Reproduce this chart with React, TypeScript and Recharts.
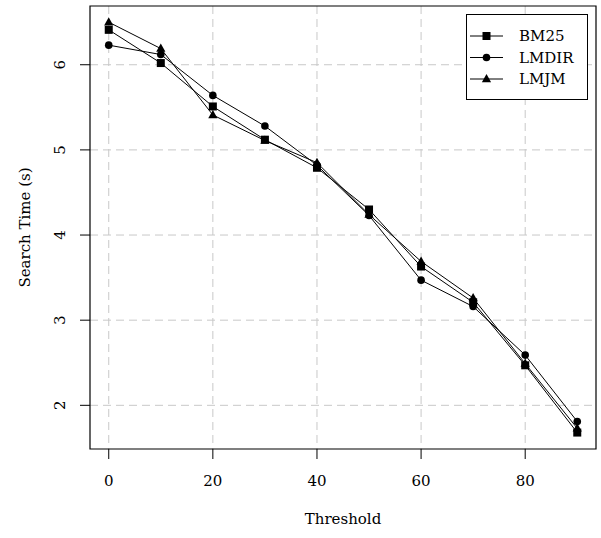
import { CartesianGrid, Legend, Line, LineChart, ReferenceArea, XAxis, YAxis } from "recharts"

const thresholds = [0, 10, 20, 30, 40, 50, 60, 70, 80, 90]
const bm25 = [6.41, 6.02, 5.51, 5.12, 4.79, 4.3, 3.63, 3.21, 2.47, 1.68]
const lmdir = [6.23, 6.12, 5.64, 5.28, 4.82, 4.23, 3.47, 3.16, 2.59, 1.81]
const lmjm = [6.5, 6.19, 5.41, 5.11, 4.85, 4.24, 3.69, 3.26, 2.49, 1.73]

const xTicks = [0, 20, 40, 60, 80]
const yTicks = [2, 3, 4, 5, 6]
const xDomain: [number, number] = [-3.6, 93.6]
const yDomain: [number, number] = [1.487, 6.69]

const textStyle = {
  fontFamily: '"DejaVu Serif", serif',
  fontSize: 15,
}

const data = thresholds.map((t, i) => ({
  t,
  bm25: bm25[i],
  lmdir: lmdir[i],
  lmjm: lmjm[i],
}))

type Shape = "square" | "circle" | "triangle"

function Marker({ shape, cx, cy }: { shape: Shape; cx: number; cy: number }) {
  if (shape === "square") {
    return <rect x={cx - 4} y={cy - 4} width={8} height={8} fill="#000" />
  }
  if (shape === "circle") {
    return <circle cx={cx} cy={cy} r={3.8} fill="#000" />
  }
  return (
    <polygon
      points={`${cx},${cy - 5} ${cx - 4.6},${cy + 3.2} ${cx + 4.6},${cy + 3.2}`}
      fill="#000"
    />
  )
}

const dotFor = (shape: Shape) => (p: any) => (
  <Marker key={`${shape}-${p.index}`} shape={shape} cx={p.cx} cy={p.cy} />
)

const series: { key: string; name: string; shape: Shape }[] = [
  { key: "bm25", name: "BM25", shape: "square" },
  { key: "lmdir", name: "LMDIR", shape: "circle" },
  { key: "lmjm", name: "LMJM", shape: "triangle" },
]

function LegendBox() {
  return (
    <svg width={122} height={86} style={{ display: "block" }}>
      <rect x={0.5} y={0.5} width={121} height={85} fill="#fff" stroke="#000" />
      {series.map((s, i) => {
        const y = 22 + i * 21.5
        return (
          <g key={s.key}>
            <line x1={4} x2={37} y1={y} y2={y} stroke="#000" />
            <Marker shape={s.shape} cx={20.5} cy={y} />
            <text x={53} y={y} dominantBaseline="central" style={textStyle} fill="#000">
              {s.name}
            </text>
          </g>
        )
      })}
    </svg>
  )
}

const YTick = ({ x, y, payload }: any) => (
  <text
    x={x - 18}
    y={y}
    transform={`rotate(-90 ${x - 18} ${y})`}
    textAnchor="middle"
    dominantBaseline="central"
    style={textStyle}
    fill="#000"
  >
    {payload.value}
  </text>
)

const XTick = ({ x, y, payload }: any) => (
  <text
    x={x}
    y={y + 20}
    textAnchor="middle"
    dominantBaseline="central"
    style={textStyle}
    fill="#000"
  >
    {payload.value}
  </text>
)

export default function App() {
  return (
    <div style={{ position: "absolute", left: 0, top: 0, background: "#fff" }}>
      <LineChart
        width={601}
        height={538}
        data={data}
        margin={{ top: 6, right: 5, bottom: 0, left: 0 }}
      >
        <CartesianGrid
          stroke="#c8c8c8"
          strokeDasharray="8 5"
          horizontalValues={yTicks}
          verticalValues={xTicks}
        />
        <XAxis
          dataKey="t"
          type="number"
          domain={xDomain}
          ticks={xTicks}
          allowDataOverflow
          height={89}
          axisLine={false}
          tickLine={{ stroke: "#000" }}
          tickSize={10}
          tick={<XTick />}
          label={{
            content: ({ viewBox }: any) => (
              <text
                x={viewBox.x + viewBox.width / 2}
                y={viewBox.y + 70}
                textAnchor="middle"
                dominantBaseline="central"
                style={textStyle}
                fill="#000"
              >
                Threshold
              </text>
            ),
          }}
        />
        <YAxis
          type="number"
          domain={yDomain}
          ticks={yTicks}
          allowDataOverflow
          width={90}
          axisLine={false}
          tickLine={{ stroke: "#000" }}
          tickSize={10}
          tick={<YTick />}
          label={{
            content: ({ viewBox }: any) => {
              const cy = viewBox.y + viewBox.height / 2
              return (
                <text
                  x={25}
                  y={cy}
                  transform={`rotate(-90 25 ${cy})`}
                  textAnchor="middle"
                  dominantBaseline="central"
                  style={textStyle}
                  fill="#000"
                >
                  Search Time (s)
                </text>
              )
            },
          }}
        />
        <ReferenceArea
          x1={xDomain[0]}
          x2={xDomain[1]}
          y1={yDomain[0]}
          y2={yDomain[1]}
          fill="none"
          stroke="#000"
          strokeWidth={1.2}
          ifOverflow="visible"
        />
        {series.map((s) => (
          <Line
            key={s.key}
            dataKey={s.key}
            name={s.name}
            stroke="#000"
            strokeWidth={1}
            dot={dotFor(s.shape)}
            activeDot={false}
            isAnimationActive={false}
          />
        ))}
        <Legend
          layout="vertical"
          align="center"
          verticalAlign="middle"
          content={() => <LegendBox />}
          wrapperStyle={{ left: 466, top: 14, width: 122, height: 86 }}
        />
      </LineChart>
    </div>
  )
}
